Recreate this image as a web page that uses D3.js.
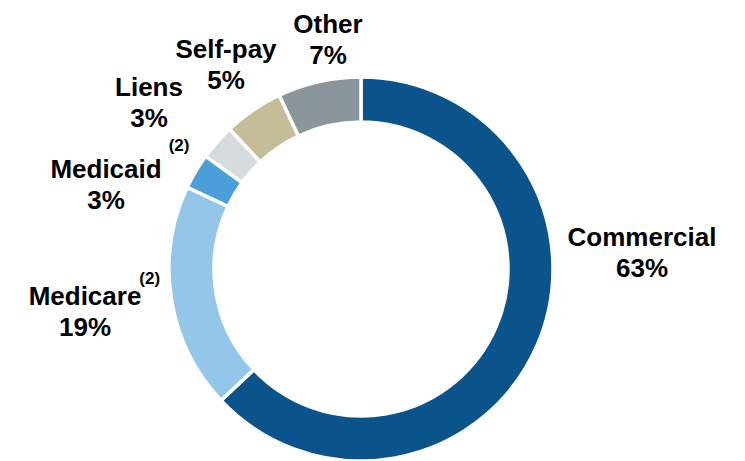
<!DOCTYPE html>
<html>
<head>
	<meta charset="utf-8">
	<title>Payor mix</title>
	<script src="https://cdn.jsdelivr.net/npm/d3@7"></script>
	<style>
		body { margin: 0; background: #fff; }
		svg { display: block; }
	</style>
</head>
<body>
	<div id="chart"></div>
	<script>

	// data
	const categories = ["Commercial", "Medicare", "Medicaid", "Liens", "Self-pay", "Other"];
	const values     = [63, 19, 3, 3, 5, 7];
	const footnotes  = ["", "(2)", "(2)", "", "", ""];
	const colors     = ["#0b548b", "#94c6ea", "#4a9fd9", "#d6dbde", "#c5bd98", "#8a969b"];

	// layout
	const width  = 745;
	const height = 461;
	const cx = 361, cy = 269;
	const outer = 192, inner = 147;
	const fontSize = 26;
	const lineGap = 31;
	// label anchor (center x, first baseline y) and footnote nudge
	const labelPos = [[642, 246], [85, 305], [106, 178], [149, 96], [226, 58], [328, 33]];
	const noteNudge = [null, [-2, -21], [7, -27], null, null, null];

	const data = categories.map((c, i) => ({ name: c, value: values[i], note: footnotes[i] }));

	const svg = d3.select("#chart")
		.append("svg")
		.attr("width", width)
		.attr("height", height)
		.attr("font-family", "'Liberation Sans', Arial, Helvetica, sans-serif")
		.attr("font-weight", "bold");

	const color = d3.scaleOrdinal(categories, colors);

	const pie = d3.pie()
		.value(d => d.value)
		.sort(null);

	const arc = d3.arc()
		.innerRadius(inner)
		.outerRadius(outer);

	svg.append("g")
		.attr("transform", `translate(${cx},${cy})`)
		.selectAll("path")
		.data(pie(data))
		.join("path")
		.attr("d", arc)
		.attr("fill", d => color(d.data.name))
		.attr("stroke", "#fff")
		.attr("stroke-width", 3.5)
		.attr("stroke-linejoin", "miter");

	const label = svg.append("g")
		.selectAll("g")
		.data(data)
		.join("g")
		.attr("transform", (d, i) => `translate(${labelPos[i][0]},${labelPos[i][1]})`);

	const name = label.append("text")
		.attr("text-anchor", "middle")
		.attr("font-size", fontSize)
		.attr("fill", "#000")
		.text(d => d.name);

	label.append("text")
		.attr("text-anchor", "middle")
		.attr("font-size", fontSize)
		.attr("y", lineGap)
		.attr("fill", "#000")
		.text(d => d3.format("d")(d.value) + "%");

	// footnote markers sit just after the category name
	name.each(function(d, i) {
		if (!d.note) return;
		const w = this.getComputedTextLength();
		d3.select(this.parentNode).append("text")
			.attr("x", w / 2 + noteNudge[i][0])
			.attr("y", noteNudge[i][1])
			.attr("font-size", 17)
			.attr("fill", "#000")
			.text(d.note);
	});

	</script>
</body>
</html>
